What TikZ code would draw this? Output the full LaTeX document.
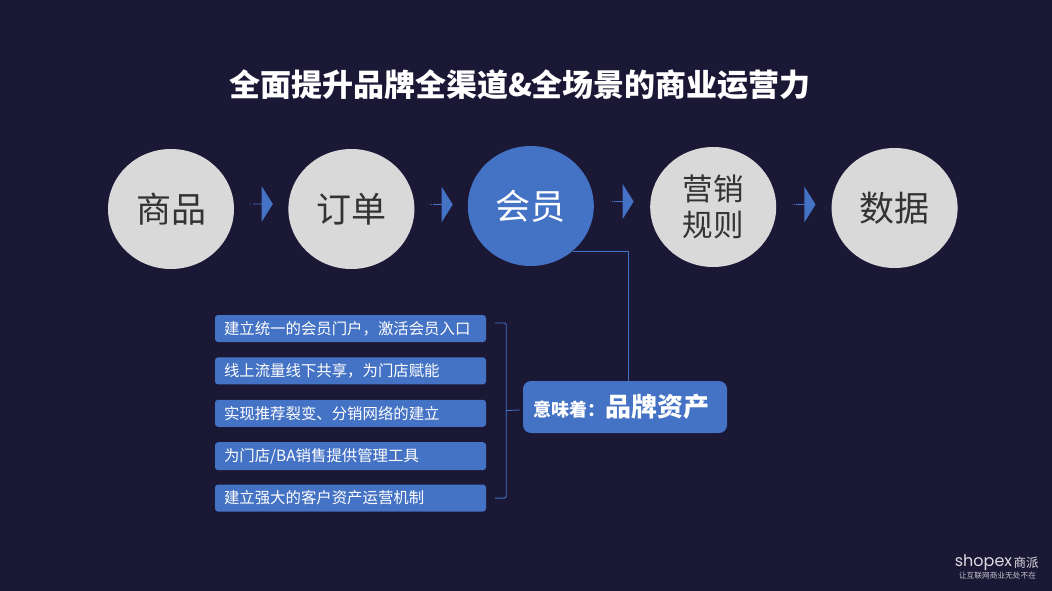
\documentclass[tikz,border=0pt]{standalone}
\usepackage{fontspec}
\setmainfont{Noto Sans CJK SC}
\newfontfamily\logofont{Poppins}
\usetikzlibrary{arrows.meta,calc,shapes,positioning}
\definecolor{darkbg}{HTML}{1B1836}
\definecolor{brandblue}{HTML}{4472C4}
\definecolor{circlegray}{HTML}{D9D9D9}
\definecolor{circletext}{HTML}{333333}

\begin{document}
\begin{tikzpicture}[
    x=1pt, y=-1pt,
    stage/.style={ellipse, fill=circlegray, text=circletext, inner sep=0pt, minimum width=126pt, minimum height=120pt, align=center, font=\fontsize{35}{39}\selectfont},
    flowarrow/.style={single arrow, fill=brandblue, inner sep=0pt, minimum width=35.5pt, minimum height=23pt, single arrow head extend=8.5pt, single arrow tip angle=116},
    itembox/.style={rectangle, rounded corners=3pt, fill=brandblue, text=white, inner xsep=9pt, inner ysep=0pt, text width=253pt, minimum height=27pt, align=left, font=\fontsize{15.4}{18}\selectfont},
    link/.style={draw=brandblue, line width=0.8pt},
]

% Background
\fill[darkbg] (0,0) rectangle (1052,591);
\useasboundingbox (0,0) rectangle (1052,591);

% Title
\node[text=white, font=\fontsize{31}{36}\selectfont\bfseries] (title) at (520,85) {全面提升品牌全渠道\&全场景的商业运营力};

% Circles
\node[stage] (goods) at (171,209) {商品};
\node[stage, right=54pt of goods] (order) {订单};
\node[stage, right=53pt of order, yshift=3pt, fill=brandblue, text=white] (member) {会员};
\node[stage, right=56pt of member, yshift=-1pt, font=\fontsize{30.5}{36}\selectfont] (marketing) {营销\\规则};
\node[stage, right=55pt of marketing, yshift=-1pt] (data) {数据};

% Block arrows
\node[flowarrow] (arrowa) at ($(goods)!0.5!(order)+(0,-5)$) {};
\node[flowarrow] (arrowb) at ($(order)!0.5!(member)+(0,-3)$) {};
\node[flowarrow] (arrowc) at ($(member)!0.5!(marketing)+(0,-5)$) {};
\node[flowarrow] (arrowd) at ($(marketing)!0.5!(data)+(0,-3)$) {};
\foreach \n in {arrowa,arrowb,arrowc,arrowd} {
    \draw[darkbg, line width=0.5pt] ([xshift=1.2pt,yshift=9.5pt]\n.west) -- ([xshift=1.2pt,yshift=-9.5pt]\n.west);
    \draw[darkbg, line width=0.5pt] ([xshift=3pt,yshift=9.5pt]\n.west) -- ([xshift=3pt,yshift=-9.5pt]\n.west);
}

% Items
\node[itembox] (itema) at (350.5,328.5) {建立统一的会员门户，激活会员入口};
\node[itembox, below=15pt of itema] (itemb) {线上流量线下共享，为门店赋能};
\node[itembox, below=15pt of itemb] (itemc) {实现推荐裂变、分销网络的建立};
\node[itembox, below=15pt of itemc, minimum height=28pt] (itemd) {为门店/BA销售提供管理工具};
\node[itembox, below=14pt of itemd] (iteme) {建立强大的客户资产运营机制};

% Result
\node[rectangle, rounded corners=8pt, fill=brandblue, text=white, minimum height=52pt, inner ysep=0pt, inner xsep=10pt, text width=184pt, align=left] (means) at (625,407)
    {\fontsize{18}{20}\selectfont\bfseries 意味着：\fontsize{26}{30}\selectfont 品牌资产};

% Lines
\draw[link] (member.-47) -| ([xshift=3pt]means.north);
\coordinate (bracetop) at ([xshift=9pt,yshift=5.5pt]itema.east);
\coordinate (bracebot) at ([xshift=9pt]iteme.east);
\coordinate (bracetip) at ([xshift=-3pt,yshift=-3pt]means.west);
\draw[link, rounded corners=1.5pt] (bracetop) -- ++(11,0) -- ($(bracebot)+(11,0)$) -- (bracebot);
\draw[link] ($(bracetop)!0.5!(bracebot)+(11,0)$) -- (bracetip);

% Logo
\node[text=white!85!darkbg, inner sep=0pt, font=\logofont\fontsize{16}{18}\selectfont] (shopex) at (983.5,563) {shopex};
\node[right=1pt of shopex, text=white!85!darkbg, inner sep=0pt, font=\fontsize{12.5}{14}\selectfont] (shangpai) {商派};
\node[text=white!75!darkbg, inner sep=0pt, font=\fontsize{7.7}{9}\selectfont] (slogan) at (997.5,576) {让互联网商业无处不在};

\end{tikzpicture}
\end{document}
